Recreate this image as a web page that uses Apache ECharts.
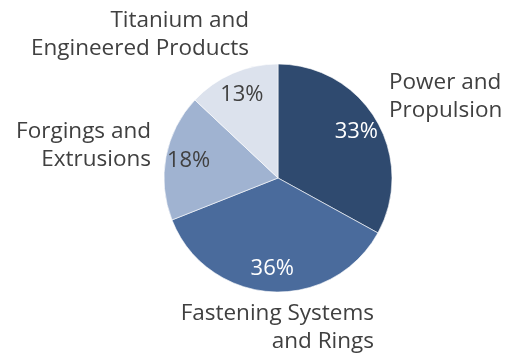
<!DOCTYPE html>
<html>
<head>
<meta charset="utf-8">
<script src="https://cdn.jsdelivr.net/npm/echarts@6/dist/echarts.min.js"></script>
<style>
  html, body { margin: 0; padding: 0; background: #ffffff; }
  #chart { width: 507px; height: 358px; }
</style>
</head>
<body>
<div id="chart"></div>
<script>
// Revenue share by segment
const segments = ['Power and\nPropulsion', 'Fastening Systems\nand Rings', 'Forgings and\nExtrusions', 'Titanium and\nEngineered Products'];
const shares = [33, 36, 18, 13];
const sliceColors = ['#2f4a6f', '#4a6b9c', '#a0b3d1', '#dce2ed'];
const insideTextColors = ['#ffffff', '#ffffff', '#404040', '#404040'];

// Where each category name sits around the pie
const namePlacement = [
  { x: 389, y: 97, align: 'left' },
  { x: 374, y: 328, align: 'right' },
  { x: 151, y: 146, align: 'right' },
  { x: 249, y: 35, align: 'right' }
];

const fontFamily = '"Open Sans", "Noto Sans", sans-serif';
const center = [278, 178];
const radius = 114;

const chart = echarts.init(document.getElementById('chart'), null, { renderer: 'canvas' });

chart.setOption({
  animation: false,
  series: [
    // the slices
    {
      type: 'pie',
      center: center,
      radius: [0, radius],
      startAngle: 90,
      clockwise: true,
      silent: true,
      itemStyle: { borderColor: '#ffffff', borderWidth: 0.6 },
      label: { show: false },
      labelLine: { show: false },
      data: segments.map((name, i) => ({
        name: name,
        value: shares[i],
        itemStyle: { color: sliceColors[i] }
      }))
    },
    // percentage labels, placed along an invisible ring near the rim
    {
      type: 'pie',
      center: center,
      radius: [62, radius],
      startAngle: 90,
      clockwise: true,
      silent: true,
      itemStyle: { color: 'rgba(0,0,0,0)' },
      label: {
        position: 'inside',
        formatter: p => p.value + '%',
        fontFamily: fontFamily,
        fontSize: 22
      },
      labelLine: { show: false },
      data: segments.map((name, i) => ({
        name: name,
        value: shares[i],
        label: { color: insideTextColors[i] }
      }))
    },
    // category names around the pie
    {
      type: 'pie',
      center: center,
      radius: [0, radius],
      startAngle: 90,
      clockwise: true,
      silent: true,
      itemStyle: { color: 'rgba(0,0,0,0)' },
      label: {
        position: 'outside',
        formatter: p => p.name,
        fontFamily: fontFamily,
        fontSize: 22.5,
        lineHeight: 28,
        color: '#404040',
        overflow: 'none'
      },
      labelLine: { show: false },
      labelLayout: params => {
        const p = namePlacement[params.dataIndex];
        return { x: p.x, y: p.y, align: p.align, verticalAlign: 'middle' };
      },
      data: segments.map((name, i) => ({ name: name, value: shares[i] }))
    }
  ]
});
</script>
</body>
</html>
